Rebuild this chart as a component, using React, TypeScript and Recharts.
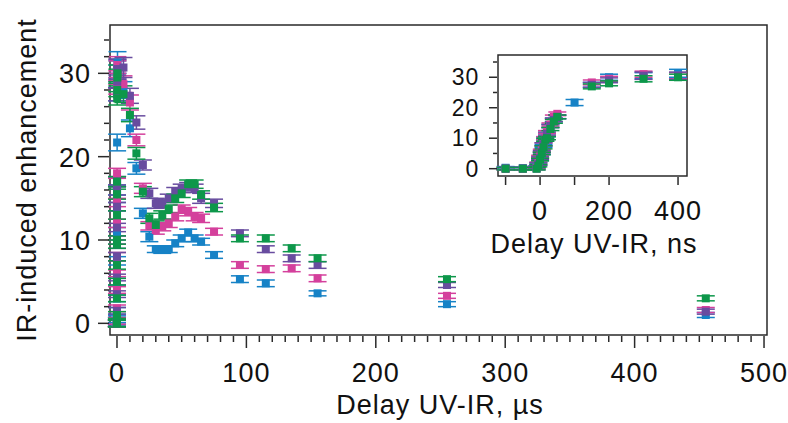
import React from 'react';
import { ScatterChart, Scatter, XAxis, YAxis, ErrorBar, ReferenceArea } from 'recharts';

type P = [number, number, number]; // [time, enhancement, error]

// ---- ns-delay data (inset, and the column at 0 µs of the main plot) ----
const BLUE_NS: P[] = [
  [-100, 0.3, 0.4], [-50, 0.2, 0.4], [-10, 0.5, 0.4], [-5, 1.5, 0.4], [0, 3, 0.4], [5, 5, 0.4],
  [10, 7.5, 0.5], [15, 10, 0.5], [20, 11, 0.5], [30, 14, 0.5], [40, 16, 0.6], [50, 17, 0.6],
  [100, 21.7, 1.0], [150, 27.5, 0.8], [200, 30, 1.0], [300, 30.5, 1.0], [400, 31.3, 1.3],
];
const PINK_NS: P[] = [
  [-100, 0, 0.4], [-50, 0, 0.4], [-10, 0.3, 0.4], [-5, 1.8, 0.4], [0, 4, 0.4], [5, 6, 0.4],
  [10, 8, 0.5], [15, 10, 0.5], [20, 12, 0.5], [30, 14.5, 0.5], [40, 17, 0.6], [50, 18, 0.6],
  [150, 28.3, 0.8], [200, 29.5, 0.8], [300, 31, 1.0], [400, 30.5, 1.0],
];
const PURPLE_NS: P[] = [
  [-100, 0, 0.4], [-50, 0, 0.4], [-10, 0, 0.4], [-5, 1.5, 0.4], [0, 3.5, 0.4], [5, 5.5, 0.4],
  [10, 8, 0.5], [15, 9.5, 0.5], [20, 11.5, 0.5], [30, 14, 0.5], [40, 16, 0.6], [50, 17, 0.6],
  [150, 27.5, 0.8], [200, 29, 0.8], [300, 30.5, 1.2], [400, 30.5, 1.2],
];
const GREEN_NS: P[] = [
  [-100, 0, 0.4], [-50, 0, 0.4], [-10, 0, 0.4], [-5, 1, 0.4], [0, 3, 0.4], [5, 5, 0.4],
  [10, 7, 0.5], [15, 9.5, 0.5], [20, 10, 0.5], [30, 13, 0.5], [40, 15.5, 0.6], [50, 17, 0.6],
  [150, 27, 0.8], [200, 28, 0.8], [300, 29.5, 1.0], [400, 30, 1.0],
];

// ---- µs-delay data (main plot) ----
const BLUE_US: P[] = [
  [5, 28, 1.0], [10, 23.4, 1.0], [15, 18.6, 0.7], [20, 13.2, 0.6], [25, 10.4, 0.6], [30, 8.9, 0.4],
  [35, 8.8, 0.4], [40, 8.9, 0.4], [45, 9.6, 0.4], [50, 10.2, 0.4], [55, 10.9, 0.4], [60, 10.2, 0.4],
  [65, 9.8, 0.4], [75, 8.2, 0.4], [95, 5.3, 0.4], [115, 4.8, 0.4], [155, 3.6, 0.3], [255, 2.3, 0.3],
  [455, 1.0, 0.3],
];
const PINK_US: P[] = [
  [5, 28.7, 1.0], [10, 26.5, 0.9], [15, 22.0, 0.7], [20, 16.2, 0.6], [25, 11.7, 0.5], [30, 11.2, 0.5],
  [35, 11.6, 0.5], [40, 12.0, 0.5], [45, 12.8, 0.5], [50, 13.7, 0.5], [55, 13.4, 0.5], [60, 12.8, 0.5],
  [65, 12.6, 0.5], [75, 11.0, 0.4], [95, 7.0, 0.4], [115, 6.5, 0.4], [135, 6.6, 0.4], [155, 5.4, 0.4],
  [255, 3.3, 0.3], [455, 1.6, 0.3],
];
const PURPLE_US: P[] = [
  [5, 30.7, 1.2], [10, 27.3, 0.9], [15, 24.1, 0.8], [20, 19.0, 0.6], [25, 15.6, 0.6], [30, 14.4, 0.6],
  [35, 14.4, 0.5], [40, 15.0, 0.5], [45, 15.8, 0.5], [50, 16.2, 0.5], [55, 16.4, 0.5], [60, 16.2, 0.5],
  [65, 15.0, 0.6], [75, 14.4, 0.5], [95, 10.8, 0.4], [115, 8.9, 0.4], [135, 7.8, 0.4], [155, 7.0, 0.4],
  [255, 4.6, 0.3], [455, 1.4, 0.3],
];
const GREEN_US: P[] = [
  [5, 27.5, 1.0], [10, 25.0, 0.8], [15, 20.4, 0.7], [20, 15.8, 0.6], [25, 12.6, 0.6], [30, 11.8, 0.5],
  [35, 13.0, 0.5], [40, 13.7, 0.5], [45, 15.0, 0.5], [50, 15.6, 0.5], [55, 16.7, 0.5], [60, 16.7, 0.5],
  [65, 15.4, 0.5], [75, 13.9, 0.5], [95, 10.2, 0.4], [115, 10.2, 0.4], [135, 9.0, 0.4], [155, 7.8, 0.4],
  [255, 5.3, 0.3], [455, 3.0, 0.3],
];

// ---- ticks / labels ----
const X_MAIN_MAJOR = [0, 100, 200, 300, 400, 500];
const Y_MAIN_MAJOR = [0, 10, 20, 30];
const X_INSET_TICKS = [-100, 0, 100, 200, 400];
const X_INSET_LABELS = [0, 200, 400];
const Y_INSET_MAJOR = [0, 10, 20, 30];
const Y_INSET_MINOR = [5, 15, 25, 35];

const X_TITLE = 'Delay UV-IR, µs';
const Y_TITLE = 'IR-induced enhancement';
const INSET_X_TITLE = 'Delay UV-IR, ns';

const SERIES = [
  { name: 'blue', color: '#1682c6', ns: BLUE_NS, us: BLUE_US },
  { name: 'pink', color: '#d4409c', ns: PINK_NS, us: PINK_US },
  { name: 'purple', color: '#684c9f', ns: PURPLE_NS, us: PURPLE_US },
  { name: 'green', color: '#0d974a', ns: GREEN_NS, us: GREEN_US },
];

const X_MAIN_TICKS: number[] = [];
for (let i = 0; i <= 50; i++) X_MAIN_TICKS.push(i * 10);
const Y_MAIN_TICKS: number[] = [];
for (let i = 0; i <= 17; i++) Y_MAIN_TICKS.push(i * 2);
const Y_INSET_TICKS = [...Y_INSET_MAJOR, ...Y_INSET_MINOR].sort((a, b) => a - b);

const AX = '#2a2a2a';
const FONT = '"Liberation Sans", Arial, Helvetica, sans-serif';
const TXT: React.CSSProperties = { fontFamily: FONT, fontSize: 27, letterSpacing: 1, fill: '#111' };
const TXT_SMALL: React.CSSProperties = { fontFamily: FONT, fontSize: 23, letterSpacing: 0.8, fill: '#111' };

const toPts = (arr: P[], scale: number) => arr.map(([t, v, e]) => ({ x: t * scale, y: v, e }));

const square = (color: string) => (props: any) => {
  const { cx, cy } = props;
  if (cx == null || cy == null) return <g />;
  return <rect x={cx - 4} y={cy - 4} width={8} height={8} fill={color} />;
};

const MainXTick = (props: any) => {
  const { x, y, payload } = props;
  const v = payload.value;
  const major = X_MAIN_MAJOR.includes(v);
  return (
    <g>
      <line x1={x} x2={x} y1={y + 1} y2={y + (major ? 13 : 7)} stroke={AX} strokeWidth={1.5} />
      {major && (
        <text x={x} y={y + 47} textAnchor="middle" style={TXT}>
          {v}
        </text>
      )}
    </g>
  );
};

const MainYTick = (props: any) => {
  const { x, y, payload } = props;
  const v = payload.value;
  const major = Y_MAIN_MAJOR.includes(v);
  return (
    <g>
      <line x1={x - 1} x2={x - (major ? 12 : 6)} y1={y} y2={y} stroke={AX} strokeWidth={1.5} />
      {major && (
        <text x={x - 19} y={y + 10} textAnchor="end" style={TXT}>
          {v}
        </text>
      )}
    </g>
  );
};

const InsetXTick = (props: any) => {
  const { x, y, payload } = props;
  const v = payload.value;
  return (
    <g>
      <line x1={x} x2={x} y1={y + 1} y2={y + 9} stroke={AX} strokeWidth={1.5} />
      {X_INSET_LABELS.includes(v) && (
        <text x={x} y={y + 44} textAnchor="middle" style={TXT}>
          {v}
        </text>
      )}
    </g>
  );
};

const InsetYTick = (props: any) => {
  const { x, y, payload } = props;
  const v = payload.value;
  const major = Y_INSET_MAJOR.includes(v);
  return (
    <g>
      <line x1={x - 1} x2={x - (major ? 9 : 5)} y1={y} y2={y} stroke={AX} strokeWidth={1.5} />
      {major && (
        <text x={x - 19} y={y + 8} textAnchor="end" style={TXT_SMALL}>
          {v}
        </text>
      )}
    </g>
  );
};

const MAIN_X_DOMAIN: [number, number] = [-5.4, 502.3];
const MAIN_Y_DOMAIN: [number, number] = [-1.4, 35.8];
const INSET_X_DOMAIN: [number, number] = [-122, 426];
const INSET_Y_DOMAIN: [number, number] = [-2.4, 37.3];

export default function App() {
  return (
    <div style={{ position: 'absolute', left: 0, top: 0, width: 788, height: 423, background: '#fff' }}>
      <div style={{ position: 'absolute', left: 0, top: 0 }}>
        <ScatterChart width={788} height={423} margin={{ top: 25, right: 21, bottom: 8, left: 10 }}>
          <XAxis
            type="number"
            dataKey="x"
            domain={MAIN_X_DOMAIN}
            allowDataOverflow
            ticks={X_MAIN_TICKS}
            interval={0}
            tick={<MainXTick />}
            tickLine={false}
            axisLine={false}
            tickSize={0}
            tickMargin={0}
            height={80}
          />
          <YAxis
            type="number"
            dataKey="y"
            domain={MAIN_Y_DOMAIN}
            allowDataOverflow
            ticks={Y_MAIN_TICKS}
            interval={0}
            tick={<MainYTick />}
            tickLine={false}
            axisLine={false}
            tickSize={0}
            tickMargin={0}
            width={100}
          />
          <ReferenceArea
            x1={MAIN_X_DOMAIN[0]}
            x2={MAIN_X_DOMAIN[1]}
            y1={MAIN_Y_DOMAIN[0]}
            y2={MAIN_Y_DOMAIN[1]}
            fill="none"
            stroke={AX}
            strokeWidth={1.5}
            ifOverflow="visible"
          />
          {SERIES.map((s) => (
            <Scatter
              key={s.name}
              name={s.name}
              data={[...toPts(s.ns, 0.001), ...toPts(s.us, 1)]}
              shape={square(s.color)}
              isAnimationActive={false}
            >
              <ErrorBar dataKey="e" direction="y" width={9} stroke={s.color} strokeWidth={1.5} />
            </Scatter>
          ))}
        </ScatterChart>
      </div>

      <div style={{ position: 'absolute', left: 400, top: 40 }}>
        <ScatterChart width={380} height={230} margin={{ top: 15, right: 93, bottom: 4, left: 8 }}>
          <XAxis
            type="number"
            dataKey="x"
            domain={INSET_X_DOMAIN}
            allowDataOverflow
            ticks={X_INSET_TICKS}
            interval={0}
            tick={<InsetXTick />}
            tickLine={false}
            axisLine={false}
            tickSize={0}
            tickMargin={0}
            height={90}
          />
          <YAxis
            type="number"
            dataKey="y"
            domain={INSET_Y_DOMAIN}
            allowDataOverflow
            ticks={Y_INSET_TICKS}
            interval={0}
            tick={<InsetYTick />}
            tickLine={false}
            axisLine={false}
            tickSize={0}
            tickMargin={0}
            width={90}
          />
          <ReferenceArea
            x1={INSET_X_DOMAIN[0]}
            x2={INSET_X_DOMAIN[1]}
            y1={INSET_Y_DOMAIN[0]}
            y2={INSET_Y_DOMAIN[1]}
            fill="none"
            stroke={AX}
            strokeWidth={1.5}
            ifOverflow="visible"
          />
          {SERIES.map((s) => (
            <Scatter
              key={s.name}
              name={s.name}
              data={toPts(s.ns, 1)}
              shape={square(s.color)}
              isAnimationActive={false}
            >
              <ErrorBar dataKey="e" direction="y" width={9} stroke={s.color} strokeWidth={1.5} />
            </Scatter>
          ))}
        </ScatterChart>
      </div>

      <svg
        width={788}
        height={423}
        style={{ position: 'absolute', left: 0, top: 0, pointerEvents: 'none' }}
      >
        <text x={440} y={414} textAnchor="middle" style={TXT}>
          {X_TITLE}
        </text>
        <text x={36} y={180} textAnchor="middle" transform="rotate(-90 36 180)" style={TXT}>
          {Y_TITLE}
        </text>
        <text x={594} y={253} textAnchor="middle" style={TXT}>
          {INSET_X_TITLE}
        </text>
      </svg>
    </div>
  );
}
